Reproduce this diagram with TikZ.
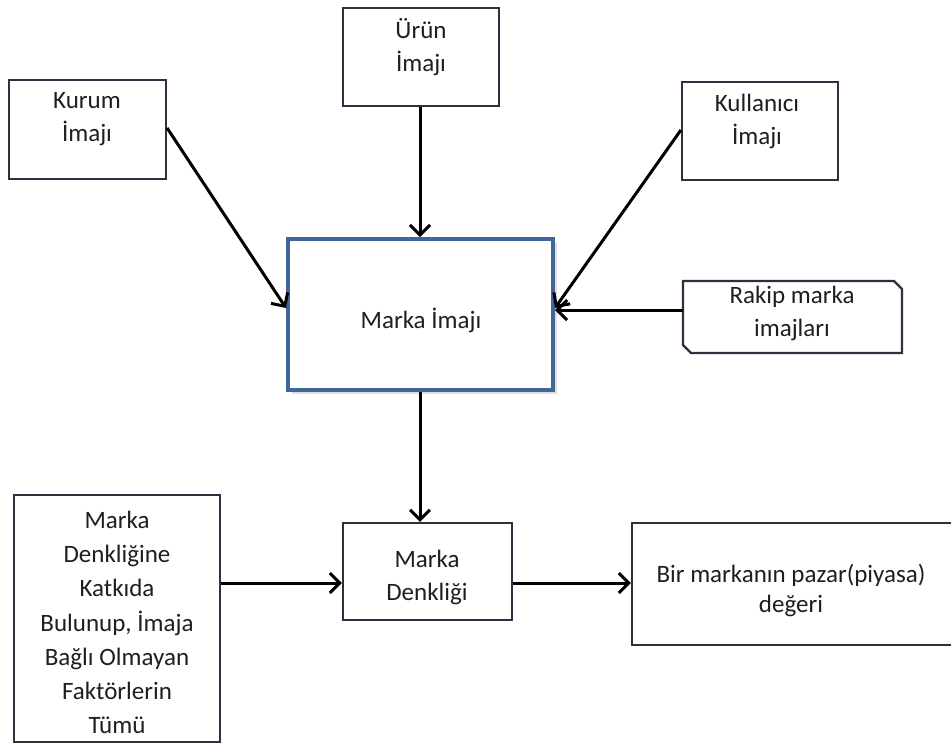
\documentclass[tikz,border=0pt]{standalone}
\usepackage{fontspec}
\setmainfont{Carlito}
\usetikzlibrary{arrows.meta}
\definecolor{edge}{HTML}{2A3140}
\definecolor{inkc}{HTML}{1E1E24}
\definecolor{mainblue}{HTML}{41679A}
\begin{document}
\begin{tikzpicture}[x=1pt,y=-1pt,
  box/.style={draw=edge,line width=2.2pt,fill=white,inner sep=0pt},
  txt/.style={text=inkc,align=center,inner sep=0pt,
    font=\fontsize{25}{33}\selectfont},
  link/.style={line width=3pt,black,-{Straight Barb[length=10pt,width=20pt,line width=3pt]}}]
\clip (0,0) rectangle (951,745);
\useasboundingbox (0,0) rectangle (951,745);
\fill[white] (0,0) rectangle (951,745);

% outer boxes
\node[box,minimum width=157,minimum height=99] (kurum) at (87.5,129.5) {};
\node[box,minimum width=156,minimum height=98] (urun) at (421,57) {};
\node[box,minimum width=156,minimum height=98] (kullanici) at (760,131) {};

% central box with soft shadow
\fill[black!12] (292,243) rectangle (557,394);
\node[draw=mainblue,line width=4pt,fill=white,minimum width=265,minimum height=151,inner sep=0pt] (imaj) at (420.5,314.5) {};

% competitor box with snipped corners
\draw[edge,line width=2.2pt,fill=white] (683,281) -- (894,281) -- (902,289) -- (902,353) -- (691,353) -- (683,345) -- cycle;
\coordinate (rakip) at (683,310);

\node[box,minimum width=169,minimum height=97] (denklik) at (427.5,571.5) {};
\node[box,minimum width=206,minimum height=247] (faktor) at (117,618.5) {};
\node[box,minimum width=322,minimum height=122] (deger) at (793,584) {};

% texts
\node[txt] (t-kurum) at (87,119.5) {Kurum\\İmajı};
\node[txt] (t-urun) at (421,47.5) {Ürün\\İmajı};
\node[txt] (t-kullanici) at (757,121.5) {Kullanıcı\\İmajı};
\node[txt] (t-imaj) at (421,320) {Marka İmajı};
\node[txt] (t-rakip) at (792,313.5) {Rakip marka\\imajları};
\node[txt] (t-denklik) at (427,577.5) {Marka\\Denkliği};
\node[txt,font=\fontsize{25}{34.2}\selectfont] (t-faktor) at (117,622.5) {Marka\\Denkliğine\\Katkıda\\Bulunup, İmaja\\Bağlı Olmayan\\Faktörlerin\\Tümü};
\node[txt,font=\fontsize{25}{30}\selectfont] (t-deger) at (791,590) {Bir markanın pazar(piyasa)\\değeri};

% connectors
\draw[link] (kurum.east |- 0,128) -- (imaj.west |- 0,308);
\draw[link] (urun.south -| 420,0) -- (imaj.north -| 420,0);
\draw[link] (kullanici.west |- 0,130) -- (imaj.east |- 0,308);
\draw[link] (rakip) -- (imaj.east |- 0,310);
\draw[link] (imaj.south -| 420,0) -- (denklik.north -| 420,0);
\draw[link] (faktor.east |- 0,583) -- (denklik.west |- 0,583);
\draw[link] (denklik.east |- 0,583) -- (deger.west |- 0,583);
\end{tikzpicture}
\end{document}
